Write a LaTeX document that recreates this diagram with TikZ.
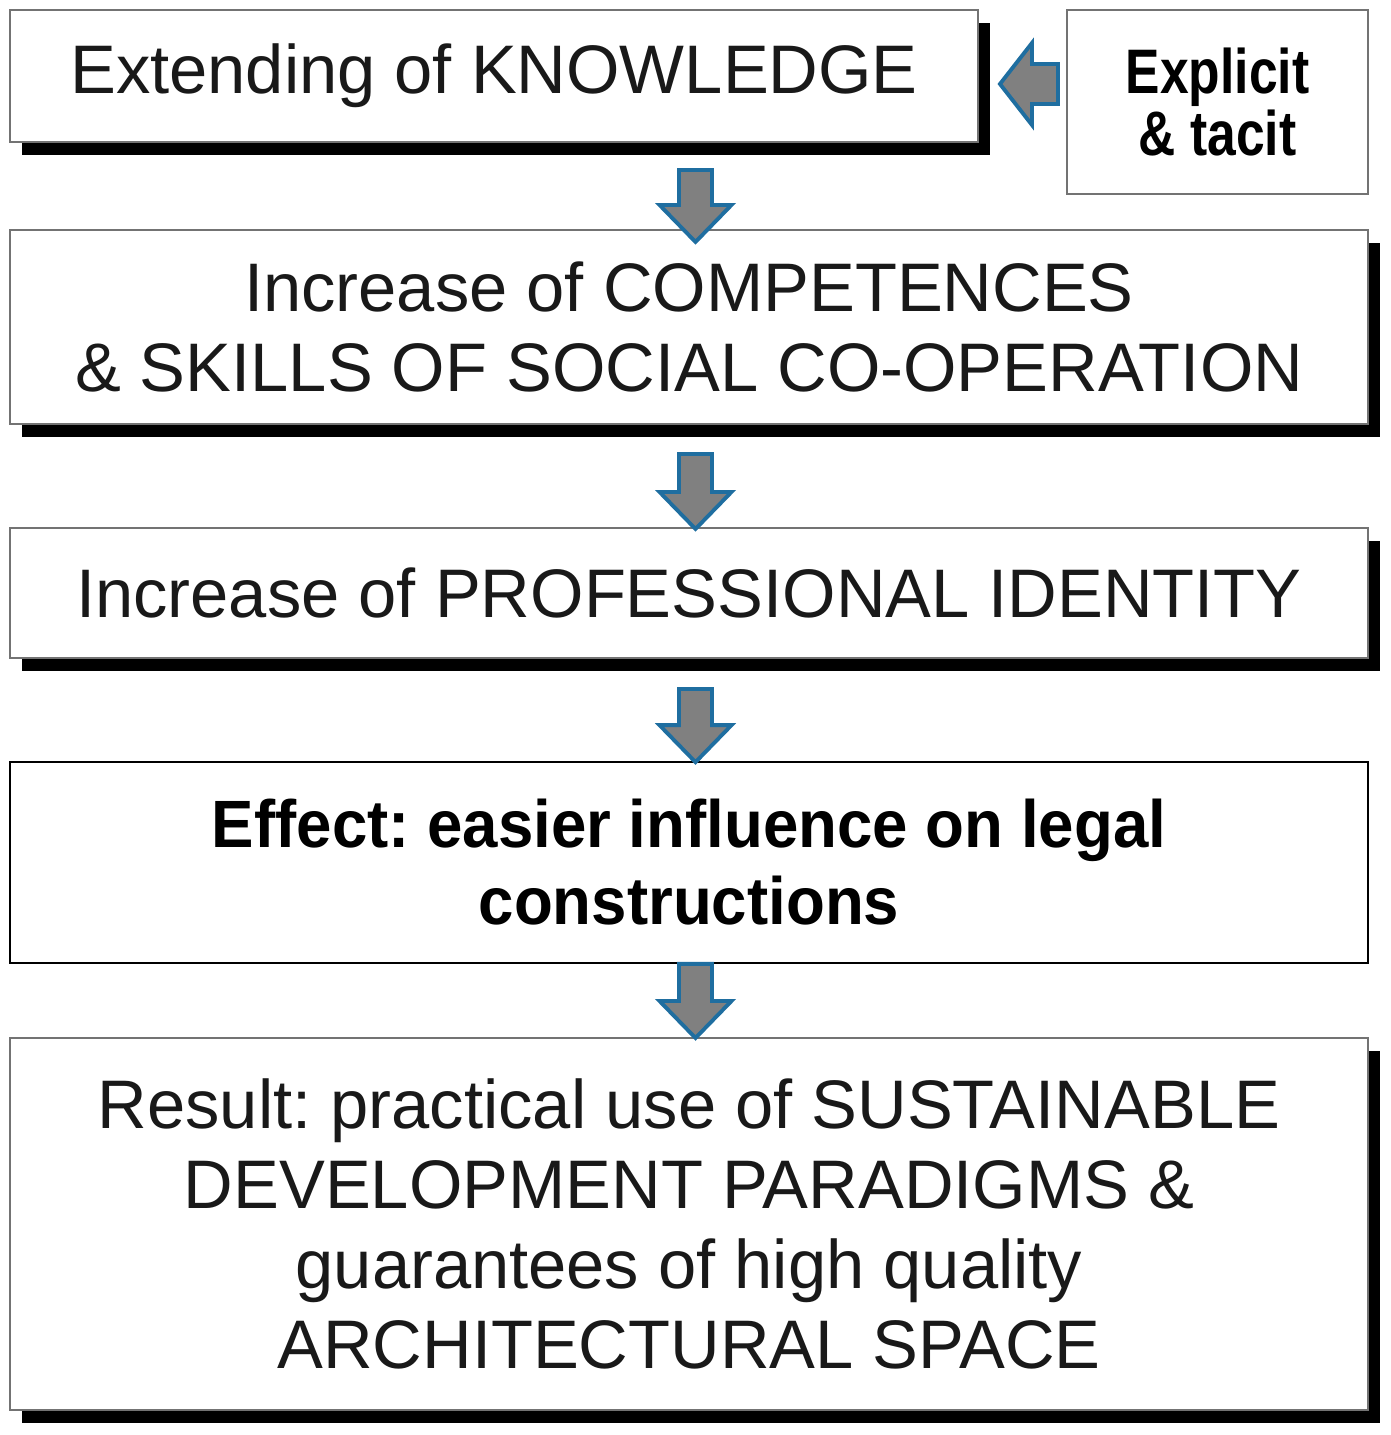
\documentclass[tikz,border=0pt]{standalone}
\usepackage{fontspec}
\setmainfont{Liberation Sans}
\newfontfamily\narrowfont[FakeStretch=0.82]{Liberation Sans}
\newfontfamily\effectfont[FakeStretch=0.95]{Liberation Sans}
\usetikzlibrary{shadows, calc}
\definecolor{arrowblue}{RGB}{31,110,160}
\definecolor{arrowgray}{RGB}{128,128,128}
\tikzstyle{level} = [rectangle, draw=black!55, line width=1.2pt, fill=white, inner sep=0pt, text=black!90, align=center, font=\frenchspacing\fontsize{39.1}{45.5}\selectfont, drop shadow={shadow xshift=0.24cm, shadow yshift=-0.26cm, fill=black, opacity=1}]
\tikzstyle{plain} = [rectangle, draw=black, line width=1pt, fill=white, inner sep=0pt, text=black, align=center, font=\frenchspacing\effectfont\bfseries\fontsize{38.1}{43.8}\selectfont]
\tikzstyle{source} = [rectangle, draw=black!55, line width=1.2pt, fill=white, inner sep=0pt, align=center, font=\narrowfont\bfseries\fontsize{35.8}{35}\selectfont]
\tikzstyle{blockarrow} = [draw=arrowblue, fill=arrowgray, line width=2.2pt, line join=miter]
\newcommand{\blockdown}[4]{%
  \coordinate (T) at ($(695.5,0 |- #1.south)+(0,#3)$);
  \coordinate (H) at ($(695.5,0 |- #2.north)+(0,#4)$);
  \draw [blockarrow] ($(T)+(-16.5,0)$) -- ($(T)+(16.5,0)$) -- ($(H)+(16.5,-37)$) -- ($(H)+(36,-37)$) -- (H) -- ($(H)+(-36,-37)$) -- ($(H)+(-16.5,-37)$) -- cycle;
}
\begin{document}
\begin{tikzpicture}[x=0.02cm, y=-0.02cm]
            \useasboundingbox (0,0) rectangle (1391,1435);
            \node [level, minimum width=19.36cm, minimum height=2.64cm] at (494,76) (know) {Extending of KNOWLEDGE};
            \node [source, minimum width=6.02cm, minimum height=3.68cm] at (1217.5,102) (expl) {Explicit\\\& tacit};
            \node [level, minimum width=27.16cm, minimum height=3.88cm] at (689,327) (comp) {Increase of COMPETENCES\\\& SKILLS OF SOCIAL CO-OPERATION};
            \node [level, minimum width=27.16cm, minimum height=2.6cm] at (689,593) (ident) {Increase of PROFESSIONAL IDENTITY};
            \node [plain, minimum width=27.16cm, minimum height=4.02cm] at (689,862.5) (effect) {Effect: easier influence on legal\\constructions};
            \node [level, minimum width=27.16cm, minimum height=7.44cm] at (689,1224) (result) {Result: practical use of SUSTAINABLE\\DEVELOPMENT PARADIGMS \&\\guarantees of high quality\\ARCHITECTURAL SPACE};

            \coordinate (L) at ($(expl.west)+(-8,-18)$);
            \coordinate (K) at ($(L -| know.east)+(21,0)$);
            \draw [blockarrow] ($(L)+(0,-20)$) -- ($(L)+(0,20)$) -- ($(K)+(32,20)$) -- ($(K)+(32,41)$) -- (K) -- ($(K)+(32,-41)$) -- ($(K)+(32,-20)$) -- cycle;
            \blockdown{know}{comp}{27}{13}
            \blockdown{comp}{ident}{29}{2}
            \blockdown{ident}{effect}{30}{1}
            \blockdown{effect}{result}{0}{1}
            \end{tikzpicture}
\end{document}
